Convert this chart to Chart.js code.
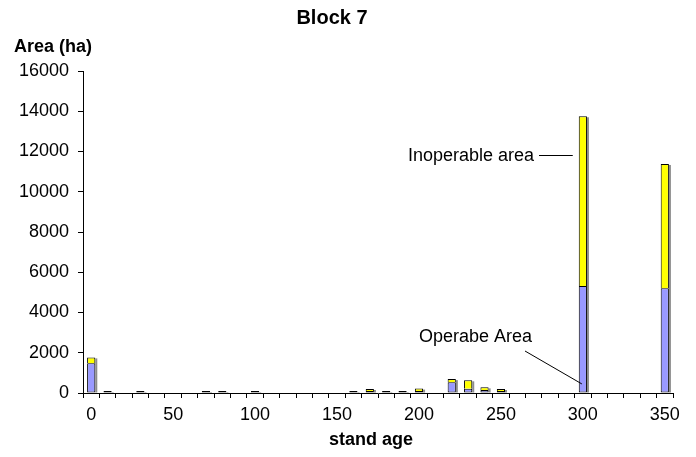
<!DOCTYPE html>
<html>
<head>
<meta charset="utf-8">
<script src="https://cdn.jsdelivr.net/npm/chart.js@4.4.1/dist/chart.umd.min.js"></script>
<style>
  html, body { margin: 0; padding: 0; background: #ffffff; }
  #wrap { width: 696px; height: 457px; }
</style>
</head>
<body>
<div id="wrap"><canvas id="c" width="696" height="457"></canvas></div>
<script>
// Stand age classes (years), one bar per class
const standAges = [0, 10, 20, 30, 40, 50, 60, 70, 80, 90, 100, 110, 120, 130, 140, 150, 160, 170,
                   180, 190, 200, 210, 220, 230, 240, 250, 260, 270, 280, 290, 300, 310, 320, 330, 340, 350];
// Area in hectares; null where a class has no area
const operableArea = [1480, 30, null, 30, null, null, null, 30, 30, null, 30, null, null, null, null, null, 40, 90,
                      20, 40, 70, null, 530, 210, 150, 60, null, null, null, null, 5320, null, null, null, null, 5210];
const inoperableArea = [290, null, null, null, null, null, null, null, null, null, null, null, null, null, null, null, null, 40,
                        null, null, 120, null, 160, 420, 130, 70, null, null, null, null, 8430, null, null, null, null, 6170];
const yTickValues = [0, 2000, 4000, 6000, 8000, 10000, 12000, 14000, 16000];
const labelledAges = [0, 50, 100, 150, 200, 250, 300, 350];

const FONT = "'Liberation Sans', Arial, sans-serif";

// Grey drop shadow on the right of each bar stack
const barShadow = {
  id: 'barShadow',
  beforeDatasetsDraw(chart) {
    const ctx = chart.ctx;
    const m0 = chart.getDatasetMeta(0);
    const m1 = chart.getDatasetMeta(1);
    ctx.save();
    ctx.fillStyle = '#8c8c8c';
    standAges.forEach((a, i) => {
      const b0 = operableArea[i] != null ? m0.data[i] : null;
      const b1 = inoperableArea[i] != null ? m1.data[i] : null;
      const top = b1 || b0;
      if (!top) return;
      const base = (b0 || b1).base;
      const half = top.width / 2;
      ctx.fillRect(top.x + half, top.y + 1, 2, base - top.y - 1);
    });
    ctx.restore();
  }
};

// Titles and the two callouts
const textLayer = {
  id: 'textLayer',
  afterDraw(chart) {
    const ctx = chart.ctx;
    const xs = chart.scales.x;
    const ys = chart.scales.y;
    ctx.save();
    ctx.fillStyle = '#000';
    ctx.textBaseline = 'middle';

    ctx.font = 'bold 20px ' + FONT;
    ctx.textAlign = 'center';
    ctx.fillText('Block 7', 332, 18);

    ctx.font = 'bold 18px ' + FONT;
    ctx.textAlign = 'left';
    ctx.fillText('Area (ha)', 14, 47);

    ctx.textAlign = 'center';
    ctx.fillText('stand age', 371, 440);

    // callouts pointing at the 300-year bar
    const i300 = standAges.indexOf(300);
    const bx = xs.getPixelForValue(i300);
    const bar = chart.getDatasetMeta(0).data[i300];
    const bLeft = bx - bar.width / 2;

    ctx.font = '18px ' + FONT;
    ctx.textAlign = 'left';
    ctx.fillText('Inoperable area', 408, 156);
    ctx.strokeStyle = '#000';
    ctx.lineWidth = 1;
    ctx.beginPath();
    ctx.moveTo(539, 155.5);
    ctx.lineTo(bLeft - 6, 155.5);
    ctx.stroke();

    ctx.fillText('Operabe Area', 419, 337);
    ctx.beginPath();
    ctx.moveTo(525, 351);
    ctx.lineTo(bx - 1, ys.getPixelForValue(450));
    ctx.stroke();
    ctx.restore();
  }
};

new Chart(document.getElementById('c'), {
  type: 'bar',
  data: {
    labels: standAges.map(String),
    datasets: [
      {
        label: 'Operable area',
        data: operableArea,
        backgroundColor: '#9999ff',
        borderColor: '#000000',
        borderWidth: 1,
        borderSkipped: false,
        minBarLength: 2,
        categoryPercentage: 1.0,
        barPercentage: 0.5
      },
      {
        label: 'Inoperable area',
        data: inoperableArea,
        backgroundColor: '#ffff00',
        borderColor: '#000000',
        borderWidth: 1,
        borderSkipped: 'start',
        minBarLength: 2,
        categoryPercentage: 1.0,
        barPercentage: 0.5
      }
    ]
  },
  options: {
    responsive: false,
    animation: false,
    layout: { padding: { top: 71, right: 23, left: 0, bottom: 0 } },
    plugins: {
      legend: { display: false },
      tooltip: { enabled: false },
      title: { display: false }
    },
    scales: {
      x: {
        stacked: true,
        offset: true,
        grid: {
          offset: true,
          drawOnChartArea: false,
          drawTicks: true,
          tickLength: 5,
          color: '#000000',
          lineWidth: 1
        },
        border: { display: true, color: '#000000', width: 1 },
        ticks: {
          autoSkip: false,
          maxRotation: 0,
          minRotation: 0,
          padding: 6,
          color: '#000000',
          font: { family: FONT, size: 18 },
          callback: (v, i) => labelledAges.includes(standAges[i]) ? String(standAges[i]) : ''
        },
        afterFit: (s) => { s.height = 64; }
      },
      y: {
        stacked: true,
        min: 0,
        max: 16000,
        afterBuildTicks: (s) => { s.ticks = yTickValues.map(v => ({ value: v })); },
        grid: {
          drawOnChartArea: false,
          drawTicks: true,
          tickLength: 5,
          color: '#000000',
          lineWidth: 1
        },
        border: { display: true, color: '#000000', width: 1 },
        ticks: {
          padding: 9,
          color: '#000000',
          font: { family: FONT, size: 18 },
          callback: (v) => String(v)
        },
        afterFit: (s) => { s.width = 83; }
      }
    }
  },
  plugins: [barShadow, textLayer]
});
</script>
</body>
</html>
